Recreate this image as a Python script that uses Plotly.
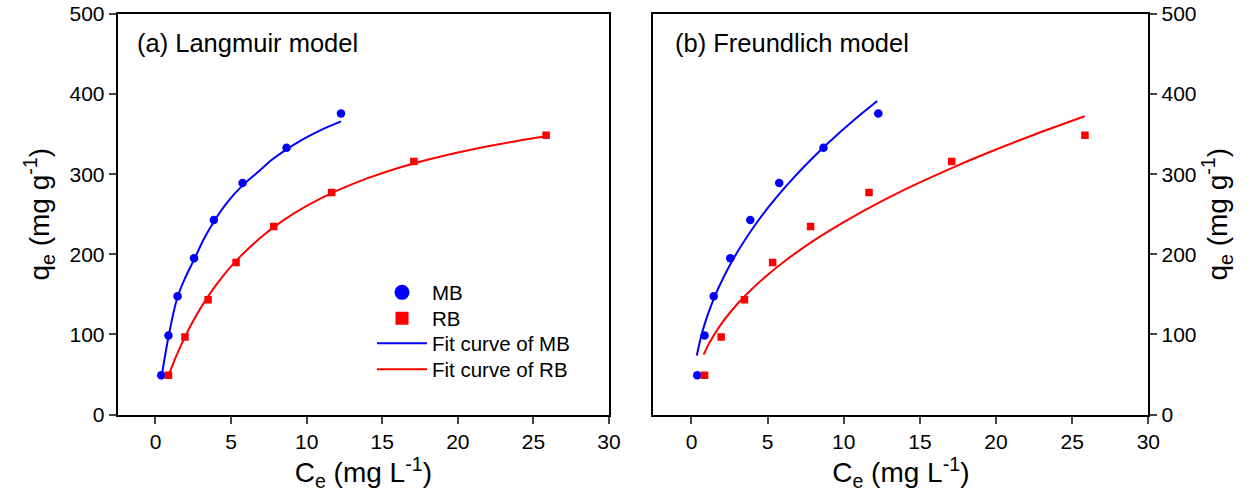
import plotly.graph_objects as go

mb_ce = [0.38, 0.86, 1.46, 2.55, 3.86, 5.76, 8.67, 12.27]
mb_qe = [49, 98.5, 147.5, 195, 242.7, 289, 333, 375.7]
rb_ce = [0.86, 1.95, 3.48, 5.33, 7.82, 11.66, 17.09, 25.84]
rb_qe = [49, 96.6, 143.4, 189.7, 234.8, 277.2, 315.9, 348.7]

# Langmuir fit curves
lang_mb_x = [0.38, 0.86, 1.45, 2.0, 2.57, 3.2, 3.87, 4.8, 5.76, 6.8, 7.7, 8.67, 9.6, 10.5, 11.4, 12.27]
lang_mb_y = [44, 97, 146, 172, 194, 219, 241, 266, 286, 303, 318, 331, 342, 351, 359, 366]
lang_rb_x = [0.86, 1.5, 2.5, 3.5, 4.5, 5.5, 7, 8.5, 10, 12, 14, 16, 18, 20, 22, 24, 25.84]
lang_rb_y = [48.8, 78.6, 117.1, 148.1, 173.7, 195.2, 221.6, 242.9, 260.4, 279.4, 294.8, 307.5, 318.1, 327.2, 335, 341.8, 347.3]

# Freundlich fit curves
freu_mb_x = [0.35, 0.6, 0.9, 1.3, 1.8, 2.5, 3.3, 4.2, 5.2, 6.3, 7.5, 8.8, 10.2, 11.2, 12.2]
freu_mb_y = [73.7, 95.0, 115.0, 136.6, 159.2, 185.8, 211.7, 237.2, 262.2, 286.9, 311.4, 335.7, 359.8, 376.0, 391.5]
freu_rb_x = [0.8, 1.2, 1.8, 2.6, 3.6, 4.8, 6.2, 8, 10, 12.5, 15, 17.5, 20, 22.5, 25.82]
freu_rb_y = [74.8, 90.2, 108.8, 128.9, 149.8, 171.1, 192.6, 216.7, 240.2, 266.3, 289.7, 311.1, 330.8, 349.3, 372.3]

x_ticks = [0, 5, 10, 15, 20, 25, 30]
y_ticks = [0, 100, 200, 300, 400, 500]

legend_names = ["MB", "RB", "Fit curve of MB", "Fit curve of RB"]

BLUE = "#0000FF"
RED = "#FF0000"
FONT = "Liberation Sans, Arial, sans-serif"

fig = go.Figure()

# Panel (a)
fig.add_trace(go.Scatter(x=lang_mb_x, y=lang_mb_y, mode="lines", line=dict(color=BLUE, width=2, shape="spline"),
                         showlegend=False, xaxis="x", yaxis="y"))
fig.add_trace(go.Scatter(x=lang_rb_x, y=lang_rb_y, mode="lines", line=dict(color=RED, width=2, shape="spline"),
                         showlegend=False, xaxis="x", yaxis="y"))
fig.add_trace(go.Scatter(x=mb_ce, y=mb_qe, mode="markers", marker=dict(color=BLUE, size=8.5, symbol="circle"),
                         showlegend=False, xaxis="x", yaxis="y"))
fig.add_trace(go.Scatter(x=rb_ce, y=rb_qe, mode="markers", marker=dict(color=RED, size=7.5, symbol="square"),
                         showlegend=False, xaxis="x", yaxis="y"))

# Panel (b)
fig.add_trace(go.Scatter(x=freu_mb_x, y=freu_mb_y, mode="lines", line=dict(color=BLUE, width=2, shape="spline"),
                         showlegend=False, xaxis="x2", yaxis="y2"))
fig.add_trace(go.Scatter(x=freu_rb_x, y=freu_rb_y, mode="lines", line=dict(color=RED, width=2, shape="spline"),
                         showlegend=False, xaxis="x2", yaxis="y2"))
fig.add_trace(go.Scatter(x=mb_ce, y=mb_qe, mode="markers", marker=dict(color=BLUE, size=8.5, symbol="circle"),
                         showlegend=False, xaxis="x2", yaxis="y2"))
fig.add_trace(go.Scatter(x=rb_ce, y=rb_qe, mode="markers", marker=dict(color=RED, size=7.5, symbol="square"),
                         showlegend=False, xaxis="x2", yaxis="y2"))

# Legend entries (one legend per row for exact row spacing)
fig.add_trace(go.Scatter(x=[None], y=[None], mode="markers", name=legend_names[0], legend="legend",
                         marker=dict(color=BLUE, size=15, symbol="circle"), xaxis="x", yaxis="y"))
fig.add_trace(go.Scatter(x=[None], y=[None], mode="markers", name=legend_names[1], legend="legend2",
                         marker=dict(color=RED, size=13, symbol="square"), xaxis="x", yaxis="y"))
fig.add_trace(go.Scatter(x=[None], y=[None], mode="lines", name=legend_names[2], legend="legend3",
                         line=dict(color=BLUE, width=2), xaxis="x", yaxis="y"))
fig.add_trace(go.Scatter(x=[None], y=[None], mode="lines", name=legend_names[3], legend="legend4",
                         line=dict(color=RED, width=2), xaxis="x", yaxis="y"))

W, H = 1255, 494
ydom = [1 - 414.5 / H, 1 - 14 / H]

common_x = dict(range=[-2.5, 30], tickvals=x_ticks, ticks="outside", ticklen=7, tickwidth=2,
                showline=True, linewidth=2, linecolor="black", mirror=True, showgrid=False, zeroline=False,
                tickfont=dict(size=21, color="black", family=FONT), automargin=False,
                title=dict(text="C<sub>e</sub> (mg L<sup>-1</sup>)", font=dict(size=28, color="black", family=FONT), standoff=5))
common_y = dict(range=[0, 500], tickvals=y_ticks, ticks="outside", ticklen=7, tickwidth=2,
                showline=True, linewidth=2, linecolor="black", mirror=True, showgrid=False, zeroline=False,
                tickfont=dict(size=21, color="black", family=FONT), automargin=False,
                title=dict(text="q<sub>e</sub> (mg g<sup>-1</sup>)", font=dict(size=28, color="black", family=FONT), standoff=12))

legend_style = dict(xanchor="left", yanchor="top", bgcolor="rgba(0,0,0,0)",
                    font=dict(size=20.5, color="black", family=FONT), itemwidth=50)
row_centers = [292, 318, 343, 369]

fig.update_layout(
    width=W, height=H,
    margin=dict(l=0, r=0, t=0, b=0),
    paper_bgcolor="white", plot_bgcolor="white",
    font=dict(family=FONT, color="black"),
    xaxis=dict(domain=[117.7 / W, 609 / W], anchor="y", **common_x),
    yaxis=dict(domain=ydom, anchor="x", side="left", **common_y),
    xaxis2=dict(domain=[653.4 / W, 1148.3 / W], anchor="y2", **common_x),
    yaxis2=dict(domain=ydom, anchor="x2", side="right", **common_y),
    legend=dict(x=372 / W, y=1 - (row_centers[0] - 19.5) / H, **legend_style),
    legend2=dict(x=372 / W, y=1 - (row_centers[1] - 19.5) / H, **legend_style),
    legend3=dict(x=372 / W, y=1 - (row_centers[2] - 19.5) / H, **legend_style),
    legend4=dict(x=372 / W, y=1 - (row_centers[3] - 19.5) / H, **legend_style),
    annotations=[
        dict(text="(a) Langmuir model", x=135 / W, y=1 - 43 / H, xref="paper", yref="paper",
             xanchor="left", yanchor="middle", showarrow=False, font=dict(size=25.5, color="black", family=FONT)),
        dict(text="(b) Freundlich model", x=673 / W, y=1 - 43 / H, xref="paper", yref="paper",
             xanchor="left", yanchor="middle", showarrow=False, font=dict(size=25.5, color="black", family=FONT)),
    ],
)

fig.write_html("out.html", config={"displayModeBar": False},
               post_script="document.body.style.margin='0px';document.body.style.overflow='hidden';")
